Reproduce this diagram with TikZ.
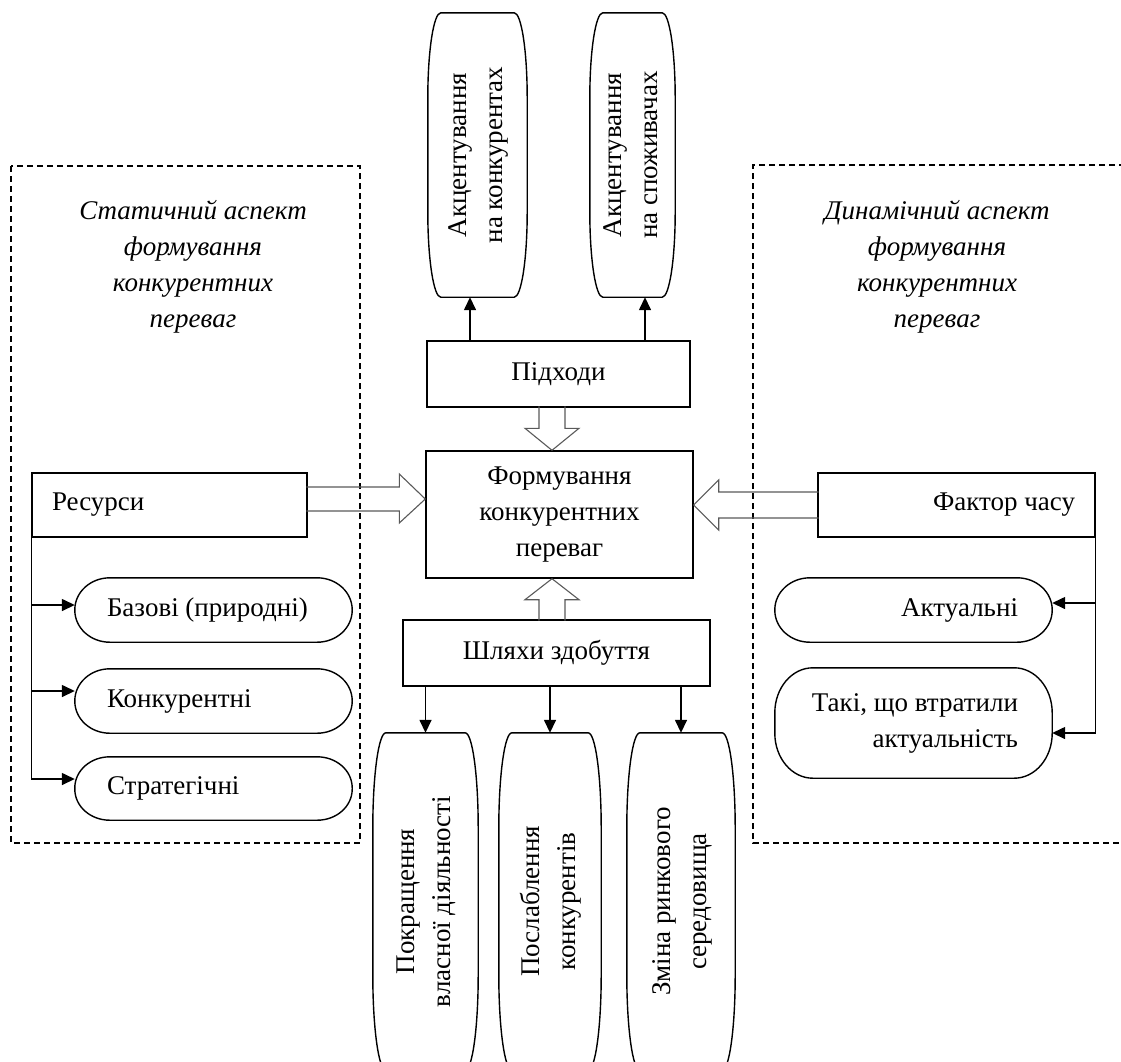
\documentclass[tikz,border=0pt]{standalone}
\usepackage{fontspec}
\setmainfont{Liberation Serif}
\usepackage{graphicx}
\usetikzlibrary{arrows.meta,positioning,calc}
\newcommand{\capsule}[3]{%
  \draw[line width=1.4pt] ($(#1.north west)+(#2,0)$)
    arc[start angle=90,end angle=180,x radius=#2,y radius=#3]
    -- ($(#1.south west)+(0,#3)$)
    arc[start angle=180,end angle=270,x radius=#2,y radius=#3]
    -- ($(#1.south east)-(#2,0)$)
    arc[start angle=270,end angle=360,x radius=#2,y radius=#3]
    -- ($(#1.north east)-(0,#3)$)
    arc[start angle=0,end angle=90,x radius=#2,y radius=#3]
    -- cycle;}
\newcommand{\vtext}[1]{\rotatebox{90}{\begin{tabular}{@{}c@{}}#1\end{tabular}}}

\begin{document}
\begin{tikzpicture}[x=1pt,y=1pt,font=\fontsize{27}{36}\selectfont,
    box/.style={draw,line width=1.4pt,inner sep=0pt},
    capnode/.style={inner sep=0pt},
    arr/.style={line width=1.5pt,-{Triangle[length=13pt,width=12pt]}},
    fat/.style={draw=black!65,line width=1.1pt,line join=miter},
    frame/.style={line width=1.2pt,dash pattern=on 6pt off 4pt}]
    \useasboundingbox (0,0) rectangle (1121,-1061);

    % Frames of the two aspects
    \draw[frame] (11,-166) rectangle (360,-843);
    \draw[frame] (1125,-165) -- (753,-165) -- (753,-843) -- (1125,-843);
    \node[align=center,font=\fontsize{27}{36}\selectfont\itshape] (stat) at (193,-267)
        {Статичний аспект\\формування\\конкурентних\\переваг};
    \node[align=center,font=\fontsize{27}{36}\selectfont\itshape] (dyn) at (937,-267)
        {Динамічний аспект\\формування\\конкурентних\\переваг};

    % Centre
    \node[box,minimum width=267pt,minimum height=127pt,align=center] (form) at (559.5,-514.5)
        {Формування\\конкурентних\\переваг};
    \node[box,minimum width=263pt,minimum height=66pt] (podh) at (558.5,-374) {Підходи};
    \node[box,minimum width=307pt,minimum height=66pt] (shl) at (556.5,-653) {Шляхи здобуття};

    % Approaches
    \node[capnode,minimum width=99pt,minimum height=284pt] (akk) at (477.5,-155)
        {\vtext{Акцентування\\на конкурентах}};
    \capsule{akk}{13}{85}
    \node[capnode,minimum width=85pt,minimum height=284pt] (aks) at (632.5,-155)
        {\vtext{Акцентування\\на споживачах}};
    \capsule{aks}{13}{85}
    \draw[arr] ([xshift=-88.5pt]podh.north) -- ([xshift=-7.5pt]akk.south);
    \draw[arr] ([xshift=86.5pt]podh.north) -- ([xshift=12.5pt]aks.south);

    % Ways
    \node[capnode,minimum width=105pt,minimum height=337pt] (pokr) at (425.5,-901.5)
        {\vtext{Покращення\\власної діяльності}};
    \capsule{pokr}{13}{95}
    \node[capnode,minimum width=102pt,minimum height=337pt] (posl) at (550,-901.5)
        {\vtext{Послаблення\\конкурентів}};
    \capsule{posl}{13}{95}
    \node[capnode,minimum width=108pt,minimum height=337pt] (zmin) at (681,-901.5)
        {\vtext{Зміна ринкового\\середовища}};
    \capsule{zmin}{13}{95}
    \foreach \w in {pokr,posl,zmin}
        \draw[arr] (\w.north |- shl.south) -- (\w.north);

    % Resources
    \node[box,minimum height=64pt,text width=235pt,inner xsep=20pt,align=flush left] (res) at (169.5,-505) {Ресурси};
    \node[capnode,minimum height=64pt,text width=213pt,inner xsep=32pt,align=flush left] (baz) at (213.5,-610) {Базові (природні)};
    \capsule{baz}{35}{32}
    \node[capnode,minimum height=64pt,text width=213pt,inner xsep=32pt,align=flush left] (kon) at (213.5,-701) {Конкурентні};
    \capsule{kon}{35}{32}
    \node[capnode,minimum height=63pt,text width=213pt,inner xsep=32pt,align=flush left] (str) at (213.5,-788.5) {Стратегічні};
    \capsule{str}{35}{31}
    \coordinate (b1) at ([yshift=5pt]baz.west);
    \coordinate (b2) at ([yshift=10pt]kon.west);
    \coordinate (b3) at ([yshift=9.5pt]str.west);
    \draw[line width=1.5pt] (res.south west) -- (res.south west |- b3);
    \foreach \b in {b1,b2,b3}
        \draw[arr] (res.south west |- \b) -- (\b);

    % Time factor
    \node[box,minimum height=64pt,text width=237pt,inner xsep=20pt,align=flush right] (fac) at (956.5,-505) {Фактор часу};
    \node[capnode,minimum height=64pt,text width=209pt,inner xsep=34pt,align=flush right] (akt) at (913.5,-610) {Актуальні};
    \capsule{akt}{35}{32}
    \node[capnode,minimum height=110pt,text width=209pt,inner xsep=34pt,align=flush right] (tak) at (913.5,-723)
        {Такі, що втратили\\актуальність};
    \capsule{tak}{38}{45}
    \coordinate (c1) at ([yshift=7pt]akt.east);
    \coordinate (c2) at ([yshift=-10pt]tak.east);
    \draw[line width=1.5pt] (fac.south east) -- (fac.south east |- c2);
    \foreach \c in {c1,c2}
        \draw[arr] (fac.south east |- \c) -- (\c);

    % Hollow arrows into the centre
    \coordinate (tipR) at ([yshift=15.5pt]form.west);
    \draw[fat] (tipR) -- ++(-26,25) -- ++(0,-13) -- ++(-93,0) ++(0,-24) -- ++(93,0) -- ++(0,-12) -- (tipR);
    \coordinate (tipF) at ([yshift=9.5pt]form.east);
    \draw[fat] (tipF) -- ++(25,25) -- ++(0,-12) -- ++(100,0) ++(0,-26) -- ++(-100,0) -- ++(0,-12) -- (tipF);
    \coordinate (tipP) at ([xshift=-7.5pt]form.north);
    \draw[fat] (tipP) -- ++(-27,22) -- ++(14,0) -- ++(0,22) ++(26,0) -- ++(0,-22) -- ++(14,0) -- (tipP);
    \coordinate (tipS) at ([xshift=-7.5pt]form.south);
    \draw[fat] (tipS) -- ++(-27,-21) -- ++(14,0) -- ++(0,-21) ++(26,0) -- ++(0,21) -- ++(14,0) -- (tipS);
\end{tikzpicture}
\end{document}
